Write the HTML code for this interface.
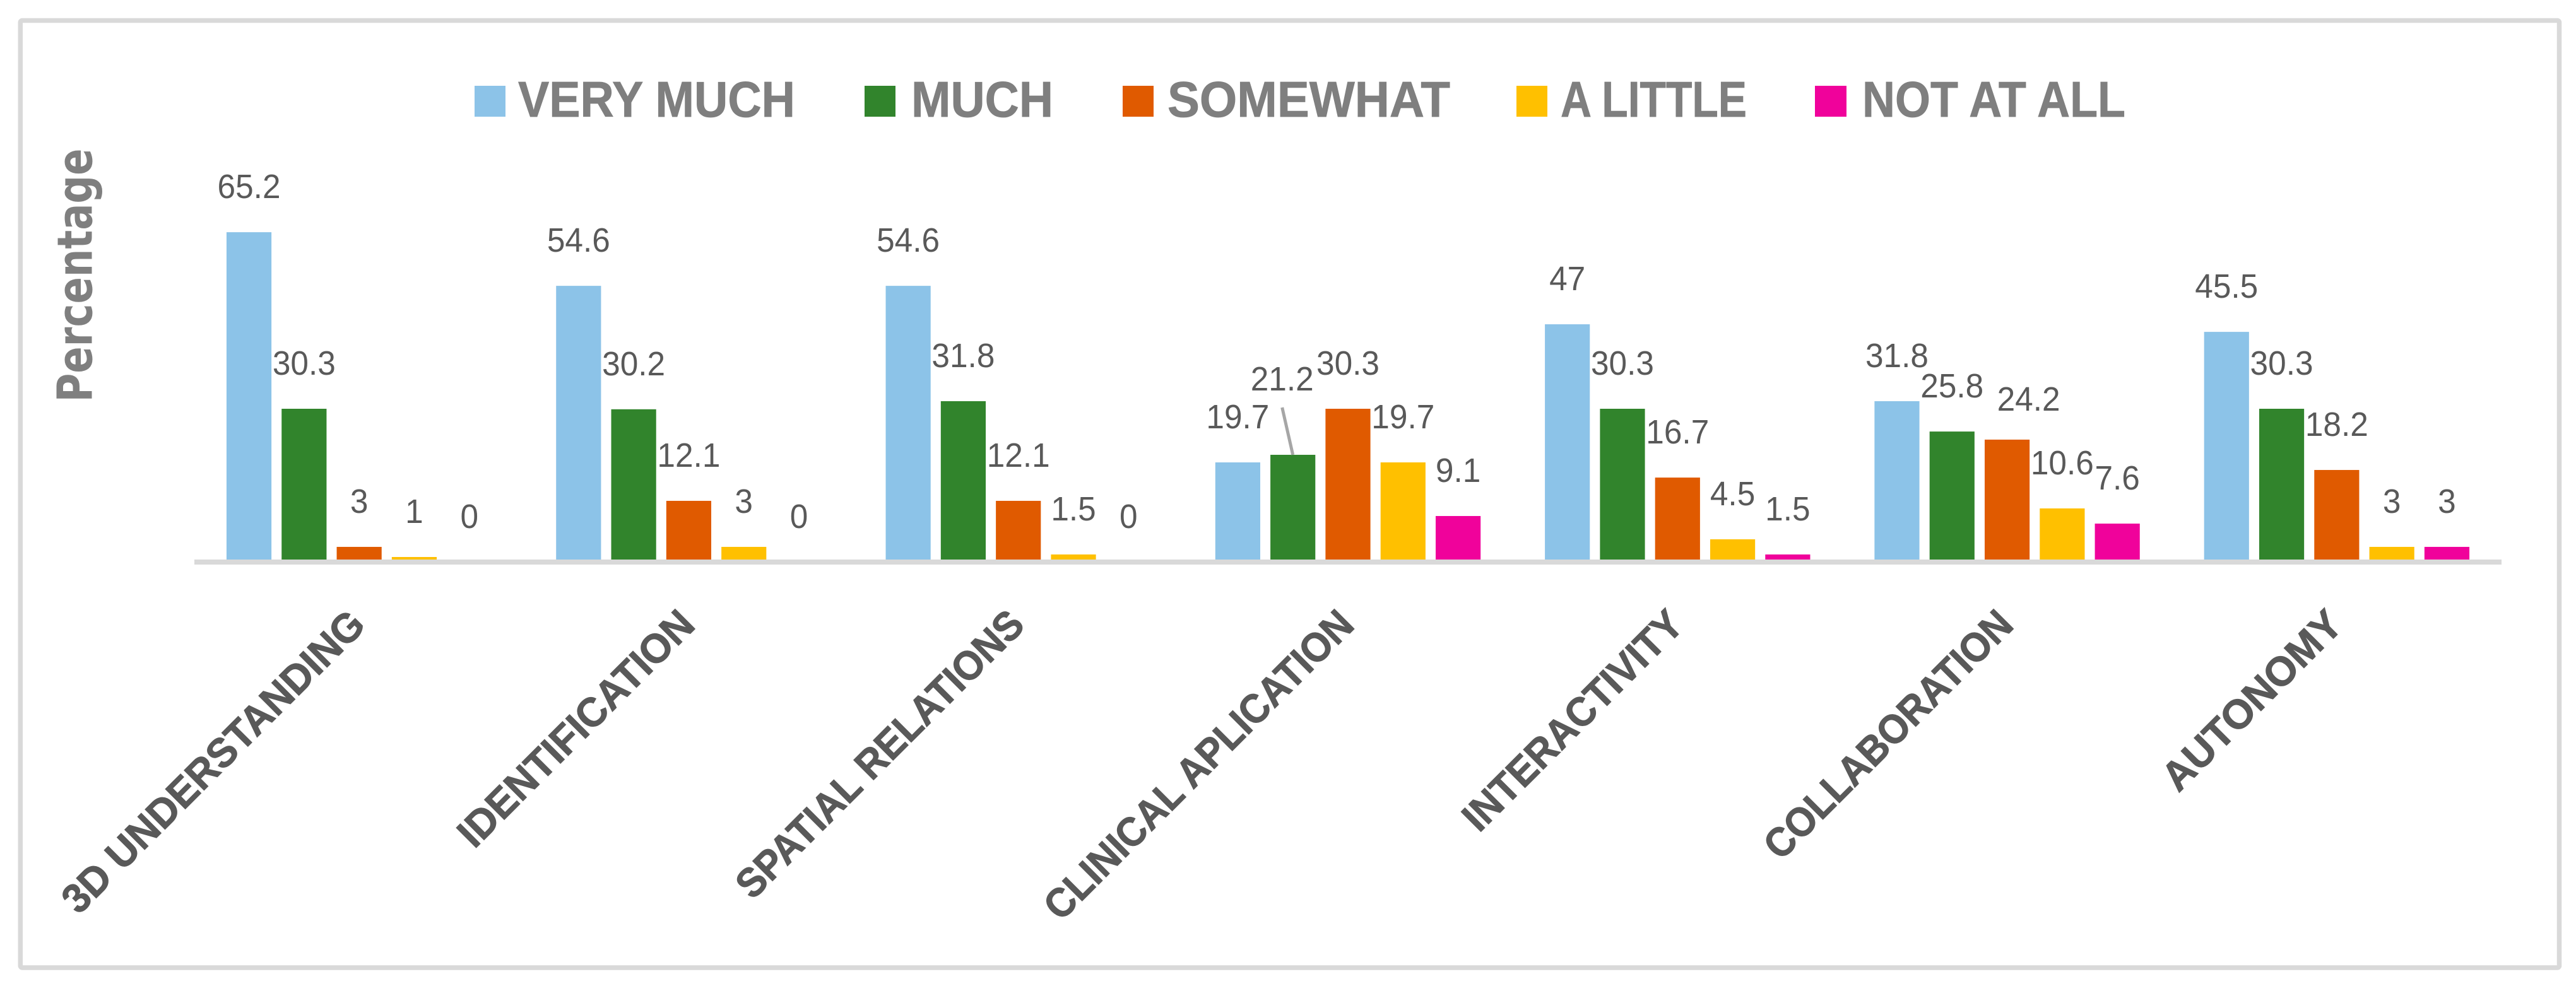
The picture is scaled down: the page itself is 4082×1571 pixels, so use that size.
<!DOCTYPE html>
<html lang="en">
<head>
<meta charset="utf-8">
<title>Survey responses by category</title>
<style>
  html, body { margin: 0; padding: 0; background: #ffffff; }
  body { width: 4082px; height: 1571px; overflow: hidden; }
  svg { display: block; }
  .legend-label { font-family: "Liberation Sans", sans-serif; font-weight: 700; font-size: 80px; fill: #7f7f7f; stroke: #7f7f7f; stroke-width: 0.8px; }
  .axis-title { font-family: "DejaVu Sans", sans-serif; font-weight: 700; font-size: 77px; fill: #7f7f7f; }
  .value-label { font-family: "Liberation Sans", sans-serif; font-size: 54px; fill: #595959; text-anchor: middle; }
  .category-label { font-family: "Liberation Sans", sans-serif; font-weight: 700; font-size: 65px; fill: #595959; stroke: #595959; stroke-width: 1px; text-anchor: end; }
</style>
</head>
<body>
<svg id="chart" xmlns="http://www.w3.org/2000/svg" width="4082" height="1571" viewBox="0 0 4082 1571">
  <rect x="0" y="0" width="4082" height="1571" fill="#ffffff"/>
  <rect x="32.3" y="32.5" width="4023.2" height="1501.5" rx="3" fill="#ffffff" stroke="#d9d9d9" stroke-width="7.5"/>

  <g>
    <g>
      <rect x="752" y="136" width="49" height="49" fill="#8cc3e8"/>
      <text class="legend-label" x="821" y="185" textLength="439" lengthAdjust="spacingAndGlyphs">VERY MUCH</text>
    </g>
    <g>
      <rect x="1370" y="136" width="49" height="49" fill="#31842c"/>
      <text class="legend-label" x="1444" y="185" textLength="225" lengthAdjust="spacingAndGlyphs">MUCH</text>
    </g>
    <g>
      <rect x="1779" y="136" width="49" height="49" fill="#e05a00"/>
      <text class="legend-label" x="1850" y="185" textLength="448" lengthAdjust="spacingAndGlyphs">SOMEWHAT</text>
    </g>
    <g>
      <rect x="2403" y="136" width="49" height="49" fill="#ffc000"/>
      <text class="legend-label" x="2473" y="185" textLength="295" lengthAdjust="spacingAndGlyphs">A LITTLE</text>
    </g>
    <g>
      <rect x="2876" y="136" width="50" height="49" fill="#f0029b"/>
      <text class="legend-label" x="2951" y="185" textLength="417" lengthAdjust="spacingAndGlyphs">NOT AT ALL</text>
    </g>
  </g>

  <text class="axis-title" transform="translate(145.5,637.5) rotate(-90)" x="0" y="0" textLength="402" lengthAdjust="spacingAndGlyphs">Percentage</text>

  <g id="bars"></g>
  <rect x="308" y="887" width="3656" height="8" fill="#d9d9d9"/>
  <g id="leaders"></g>
  <g id="values"></g>
  <g id="categories"></g>
</svg>

<script>
// ---- Data ----
const categories = ['3D UNDERSTANDING', 'IDENTIFICATION', 'SPATIAL RELATIONS', 'CLINICAL APLICATION', 'INTERACTIVITY', 'COLLABORATION', 'AUTONOMY'];
const seriesNames = ['VERY MUCH', 'MUCH', 'SOMEWHAT', 'A LITTLE', 'NOT AT ALL'];
const veryMuch = [65.2, 54.6, 54.6, 19.7, 47, 31.8, 45.5];
const much = [30.3, 30.2, 31.8, 21.2, 30.3, 25.8, 30.3];
const somewhat = [3, 12.1, 12.1, 30.3, 16.7, 24.2, 18.2];
const aLittle = [1, 3, 1.5, 19.7, 4.5, 10.6, 3];
const notAtAll = [0, 0, 0, 9.1, 1.5, 7.6, 3];

// ---- Layout and axis functions ----
const allSeries = [veryMuch, much, somewhat, aLittle, notAtAll];
const seriesColors = ['#8cc3e8', '#31842c', '#e05a00', '#ffc000', '#f0029b'];
const categoryTextLengths = [647, 499, 614, 662, 463, 526, 373];
const plotLeft = 308, plotRight = 3964, baselineY = 887;
const axisMin = 0.5, pxPerUnit = 8.02;
const barStep = 87.3, barWidth = 71.2;
const labelGap = 54;
const digitAdvance = 28.6, pointAdvance = 14.2;
const bandWidth = (plotRight - plotLeft) / categories.length;

function bandCenter(c) { return plotLeft + bandWidth * (c + 0.5); }
function barCenter(c, s) { return bandCenter(c) + (s - (allSeries.length - 1) / 2) * barStep; }
function valueY(v) { return baselineY - pxPerUnit * (v - axisMin); }
function labelWidth(text) {
  let w = 0;
  for (const ch of text) { w += ch === '.' ? pointAdvance : digitAdvance; }
  return w;
}

// Manually moved data labels, keyed by category and series index
function labelNudge(c, s) {
  if (c === 3 && s === 1) return { dx: -17, dy: -48, leader: true };
  if (c === 5 && s === 2) return { dx: 34, dy: 8, leader: false };
  return { dx: 0, dy: 0, leader: false };
}

const NS = 'http://www.w3.org/2000/svg';
const barsLayer = document.getElementById('bars');
const valuesLayer = document.getElementById('values');
const leadersLayer = document.getElementById('leaders');
const categoriesLayer = document.getElementById('categories');
const slug = (t) => t.toLowerCase().replace(/[^a-z0-9]+/g, '-');

allSeries.forEach((series, s) => {
  series.forEach((v, c) => {
    const top = Math.min(valueY(v), baselineY);
    const cx = barCenter(c, s);
    const bar = document.createElementNS(NS, 'rect');
    
    
    bar.setAttribute('x', cx - barWidth / 2);
    bar.setAttribute('y', top);
    bar.setAttribute('width', barWidth);
    bar.setAttribute('height', baselineY - top);
    bar.setAttribute('fill', seriesColors[s]);
    barsLayer.appendChild(bar);

    const nudge = labelNudge(c, s);
    const lx = cx + nudge.dx;
    const ly = valueY(v) - labelGap + nudge.dy;
    const text = String(v);
    const label = document.createElementNS(NS, 'text');
    
    
    label.setAttribute('class', 'value-label');
    label.setAttribute('x', lx);
    label.setAttribute('y', ly);
    label.setAttribute('textLength', labelWidth(text));
    label.setAttribute('lengthAdjust', 'spacingAndGlyphs');
    label.textContent = text;
    valuesLayer.appendChild(label);

    if (nudge.leader) {
      const line = document.createElementNS(NS, 'line');
      
      
      line.setAttribute('x1', lx);
      line.setAttribute('y1', ly + 27);
      line.setAttribute('x2', cx);
      line.setAttribute('y2', top);
      line.setAttribute('stroke', '#a6a6a6');
      line.setAttribute('stroke-width', '5');
      leadersLayer.appendChild(line);
    }
  });
});

categories.forEach((name, c) => {
  const t = document.createElementNS(NS, 'text');
  
  
  t.setAttribute('class', 'category-label');
  t.setAttribute('transform', 'translate(' + (bandCenter(c) + 13) + ',994) rotate(-45)');
  t.setAttribute('textLength', categoryTextLengths[c]);
  t.setAttribute('lengthAdjust', 'spacingAndGlyphs');
  t.textContent = name;
  categoriesLayer.appendChild(t);
});
</script>
</body>
</html>
